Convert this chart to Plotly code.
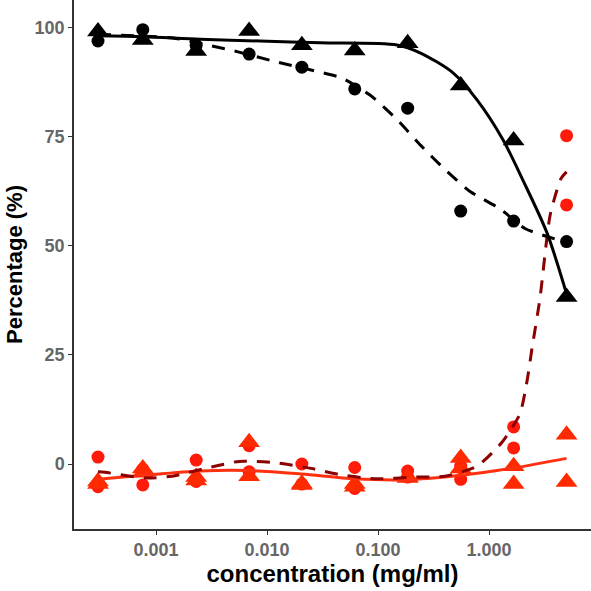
import plotly.graph_objects as go

# ---------------- data ----------------
conc = [0.0003, 0.00076, 0.0023, 0.0069, 0.0206, 0.0617, 0.185, 0.556, 1.667, 5.0]

black_tri = [99.2, 97.2, 94.7, 99.3, 96.0, 94.8, 96.5, 86.8, 74.2, 38.3]
black_circ = [97.0, 99.6, 96.0, 94.0, 91.0, 86.0, 81.6, 58.0, 55.7, 51.0]

red_circ_a = [1.6, -1.2, 0.9, 4.2, 0.0, -0.8, -1.6, -0.5, 8.5, 75.3]
red_circ_b = [-5.2, -4.8, -4.0, -1.8, -4.6, -5.6, -3.0, -3.5, 3.7, 59.4]
red_tri_a = [-4.0, -1.0, -3.0, 5.0, -4.5, -4.6, -3.2, 1.4, -0.5, 6.7]
red_tri_b = [-4.6, -2.0, -3.8, -2.8, -4.8, -5.2, -3.0, -1.0, -4.6, -4.1]

# fitted curves
fit_black_solid_x = [0.0003, 0.00076, 0.0025, 0.0086, 0.030, 0.148, 0.239, 0.474, 0.78, 1.34, 2.02, 3.33, 5.0]
fit_black_solid_y = [98.2, 98.0, 97.4, 97.0, 96.6, 96.1, 94.3, 89.7, 83.5, 74.3, 65.1, 53.0, 39.0]

fit_black_dash_x = [0.0003, 0.00142, 0.0030, 0.00548, 0.0118, 0.0244, 0.0474, 0.0847, 0.148, 0.244, 0.402, 0.675, 1.26, 2.11, 5.0]
fit_black_dash_y = [98.5, 97.7, 96.0, 94.5, 92.3, 90.4, 88.5, 84.6, 79.0, 73.0, 67.5, 62.5, 58.5, 54.0, 50.8]

fit_red_solid_x = [0.0003, 0.00076, 0.0025, 0.0069, 0.0206, 0.0617, 0.185, 0.556, 1.667, 5.0]
fit_red_solid_y = [-3.5, -2.6, -1.6, -1.5, -2.3, -3.4, -3.6, -2.6, -0.9, 1.3]

fit_red_dash_x = [0.0003, 0.000347, 0.000796, 0.00139, 0.0030, 0.0056, 0.0118, 0.0249, 0.0465, 0.098,
                  0.215, 0.40, 0.78, 1.31, 1.90, 2.20, 2.44, 2.88, 3.55, 4.46, 5.0]
fit_red_dash_y = [-1.8, -1.9, -3.2, -2.8, -0.8, 0.6, 0.3, -1.0, -2.5, -3.4,
                  -3.0, -2.8, -0.5, 5.0, 11.5, 19.0, 26.5, 38.0, 57.0, 65.5, 67.0]

x_tickvals = [0.001, 0.01, 0.1, 1]
x_ticktext = ["0.001", "0.010", "0.100", "1.000"]
y_tickvals = [0, 25, 50, 75, 100]

# ---------------- styles ----------------
RED_C = "#FF1A0A"
RED_T = "#FF2A00"
RED_L = "#FF3010"
DARKRED = "#8B0000"

fig = go.Figure()

def pts(x, y, color, symbol, size):
    fig.add_trace(go.Scatter(x=x, y=y, mode="markers",
                             marker=dict(color=color, symbol=symbol, size=size, line=dict(width=0)),
                             showlegend=False, hoverinfo="skip"))

pts(conc, red_circ_a, RED_C, "circle", 13)
pts(conc, red_circ_b, RED_C, "circle", 13)
pts(conc, red_tri_a, RED_T, "triangle-up", 19)
pts(conc, red_tri_b, RED_T, "triangle-up", 19)
pts(conc, black_tri, "black", "triangle-up", 19)
pts(conc, black_circ, "black", "circle", 13)

def line(x, y, color, dash, smooth):
    fig.add_trace(go.Scatter(x=x, y=y, mode="lines",
                             line=dict(color=color, width=3, dash=dash, shape="spline", smoothing=smooth),
                             showlegend=False, hoverinfo="skip"))

line(fit_red_solid_x, fit_red_solid_y, RED_L, "solid", 0.8)
line(fit_red_dash_x, fit_red_dash_y, DARKRED, "13px,10px", 0.6)
line(fit_black_dash_x, fit_black_dash_y, "black", "13px,10px", 0.6)
line(fit_black_solid_x, fit_black_solid_y, "black", "solid", 0.8)

fig.update_layout(
    width=591, height=591,
    margin=dict(l=74, r=0, t=0, b=62),
    paper_bgcolor="white", plot_bgcolor="white",
    font=dict(family="Liberation Sans, Arial, sans-serif"),
)
fig.update_xaxes(
    type="log", range=[-3.739, 0.919], automargin=False,
    tickvals=x_tickvals, ticktext=x_ticktext,
    showgrid=False, zeroline=False,
    showline=True, linecolor="#333333", linewidth=1.5,
    ticks="outside", ticklen=4, tickwidth=1.2, tickcolor="#333333",
    tickfont=dict(size=18, color="#666666", family="Liberation Sans, Arial, sans-serif", weight="bold"),
    title=dict(text="<b>concentration (mg/ml)</b>", font=dict(size=24, color="black"), standoff=2),
)
fig.update_yaxes(
    range=[-14.9, 106.4], automargin=False,
    tickvals=y_tickvals,
    showgrid=False, zeroline=False,
    showline=True, linecolor="#333333", linewidth=1.5,
    ticks="outside", ticklen=4, tickwidth=1.2, tickcolor="#333333",
    tickfont=dict(size=18, color="#666666", family="Liberation Sans, Arial, sans-serif", weight="bold"),
    title=dict(text="<b>Percentage (%)</b>", font=dict(size=22, color="black"), standoff=6),
)

fig.write_html("out.html", config={"displayModeBar": False},
               post_script="document.body.style.margin='0';document.body.style.padding='0';")
